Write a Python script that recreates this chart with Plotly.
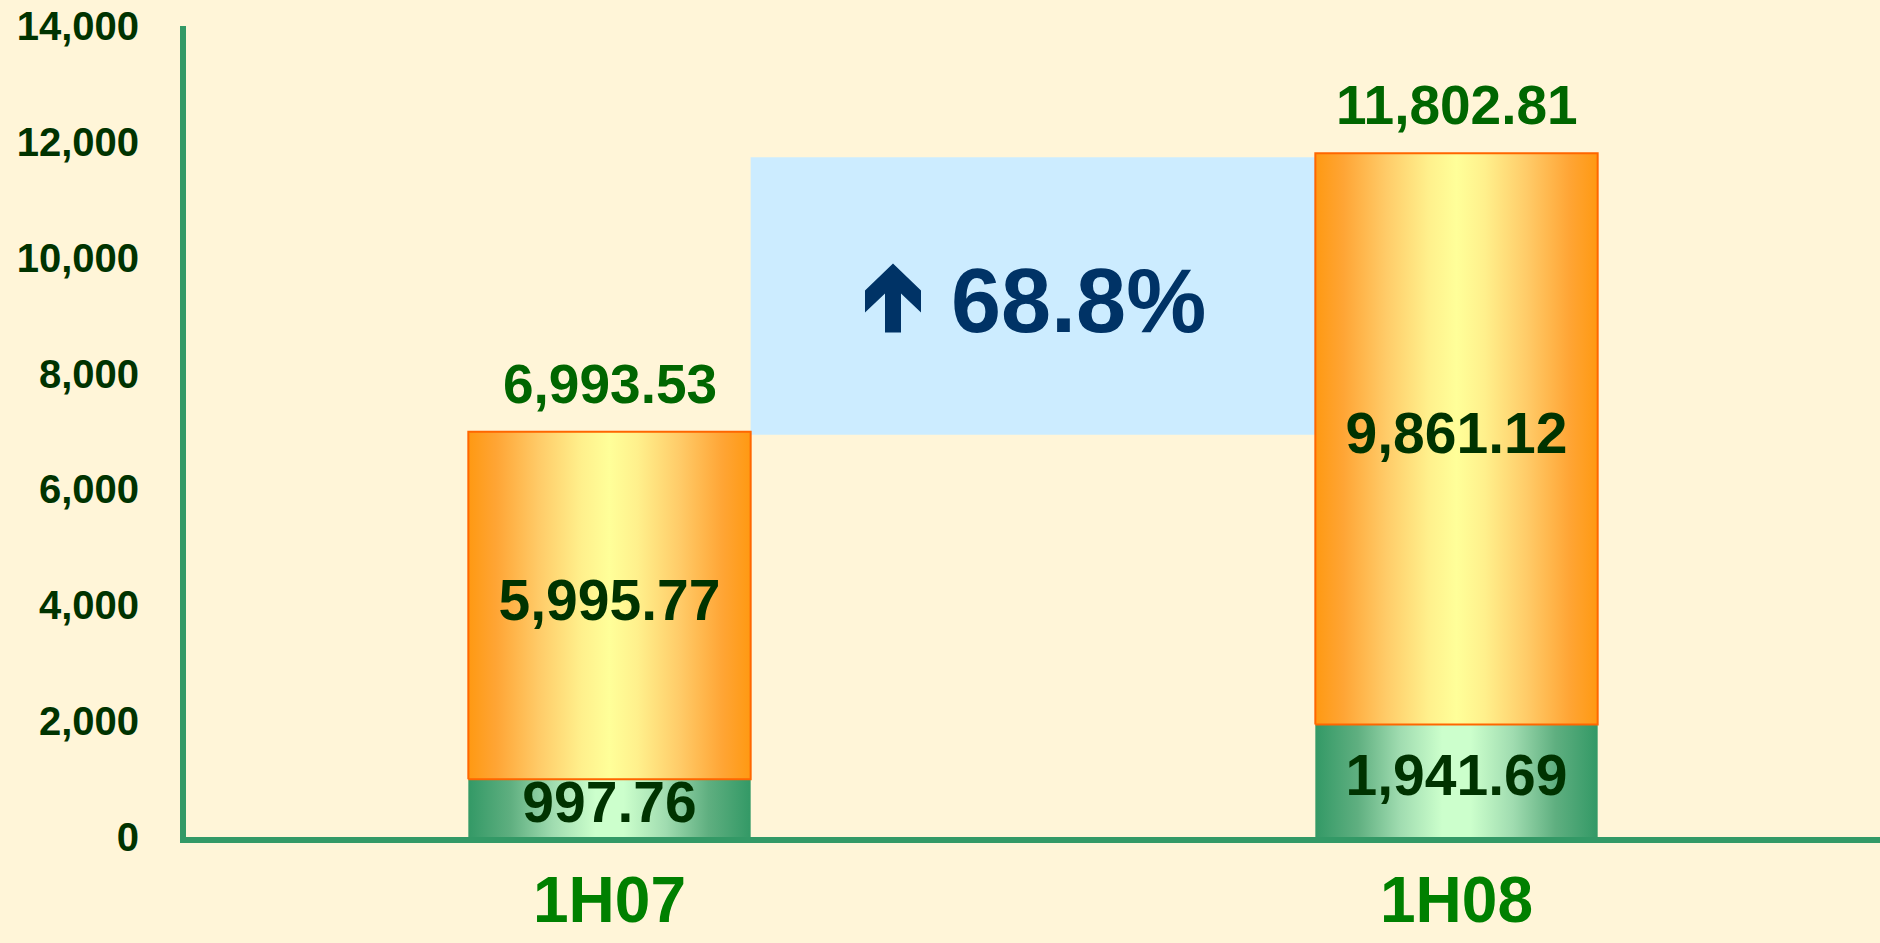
import plotly.graph_objects as go

categories = ["1H07", "1H08"]
base_values = [997.76, 1941.69]
upper_values = [5995.77, 9861.12]
totals = [6993.53, 11802.81]
y_ticks = [0, 2000, 4000, 6000, 8000, 10000, 12000, 14000]

FONT = "Liberation Sans, Arial, sans-serif"
BG = "#FFF5D8"
BAR_W = 1 / 3
xs = list(range(len(categories)))

orange_scale = [[0, "#FF9912"], [0.1, "#FFA535"], [0.25, "#FFCB68"], [0.4, "#FFF08C"],
                [0.5, "#FFFF99"], [0.6, "#FFF08C"], [0.75, "#FFCB68"], [0.9, "#FFA535"],
                [1, "#FF9912"]]
green_scale = [[0, "#339966"], [0.15, "#5FAF80"], [0.3, "#A0DCB0"], [0.45, "#CCFFCC"],
               [0.55, "#CCFFCC"], [0.7, "#A0DCB0"], [0.85, "#5FAF80"], [1, "#339966"]]

fig = go.Figure()

def seg(x, y0, y1, scale, line):
    fig.add_trace(go.Scatter(
        x=[x - BAR_W / 2, x + BAR_W / 2, x + BAR_W / 2, x - BAR_W / 2, x - BAR_W / 2],
        y=[y0, y0, y1, y1, y0],
        mode="lines", fill="toself",
        fillgradient=dict(type="horizontal", colorscale=scale),
        line=line, hoverinfo="skip", showlegend=False))

for i, x in enumerate(xs):
    seg(x, 0, base_values[i], green_scale, dict(width=0, color="#339966"))
    seg(x, base_values[i], base_values[i] + upper_values[i], orange_scale,
        dict(width=2, color="#FF6600"))

# segment labels
fig.add_trace(go.Scatter(
    x=xs + xs,
    y=[b / 2 for b in base_values] + [b + u / 2 for b, u in zip(base_values, upper_values)],
    text=[f"{v:,.2f}" for v in base_values + upper_values],
    mode="text", textposition="middle center",
    textfont=dict(family=FONT, size=57, color="#003300", weight="bold"),
    hoverinfo="skip", showlegend=False))

# total labels
for i, x in enumerate(xs):
    fig.add_annotation(x=x, y=totals[i], text=f"<b>{totals[i]:,.2f}</b>", showarrow=False,
                       yanchor="bottom", yshift=15,
                       font=dict(family=FONT, size=55, color="#006600"))

growth = (totals[1] / totals[0] - 1) * 100
mid_y = (totals[0] + totals[1]) / 2

# blue box between bars
fig.add_shape(type="rect", xref="x", yref="y",
              x0=xs[0] + BAR_W / 2, x1=xs[1] - BAR_W / 2,
              y0=totals[0] - 50, y1=totals[1] - 70,
              fillcolor="#CCECFF", line=dict(width=0), layer="below")

# arrow glyph
arrow_pts = [(-140, 29), (-168, 2), (-168, -20), (-148, -1), (-148, -40),
             (-132, -40), (-132, -1), (-112, -20), (-112, 2)]
path = "M " + " L ".join(f"{px},{py}" for px, py in arrow_pts) + " Z"
fig.add_shape(type="path", xref="x", yref="y", xsizemode="pixel", ysizemode="pixel",
              xanchor=0.5, yanchor=mid_y, path=path,
              fillcolor="#003366", line=dict(width=0))

fig.add_annotation(x=0.5, y=mid_y, text=f"<b>{growth:.1f}%</b>", showarrow=False,
                   xshift=45, yshift=-8,
                   font=dict(family=FONT, size=90, color="#003366"))

fig.update_layout(
    width=1880, height=943,
    margin=dict(l=186, r=0, t=26, b=106),
    paper_bgcolor=BG, plot_bgcolor=BG,
    showlegend=False,
    xaxis=dict(range=[-0.5, 1.5], tickvals=xs, ticktext=categories,
               showgrid=False, zeroline=False, showline=True, linewidth=6,
               linecolor="#339966", ticks="", ticklabelstandoff=2, automargin=False,
               tickfont=dict(family=FONT, size=64, color="#008000", weight="bold"),
               fixedrange=True),
    yaxis=dict(range=[0, 14000], tickvals=y_ticks, tickformat=",",
               showgrid=False, zeroline=False, showline=True, linewidth=6,
               linecolor="#339966", ticks="", ticklabelstandoff=33, automargin=False,
               tickfont=dict(family=FONT, size=40, color="#003300", weight="bold"),
               fixedrange=True),
)

fig.write_html("out.html", config={"displayModeBar": False},
               post_script="document.body.style.margin='0';"
                           "document.documentElement.style.overflow='hidden';"
                           f"document.body.style.background='{BG}';")
